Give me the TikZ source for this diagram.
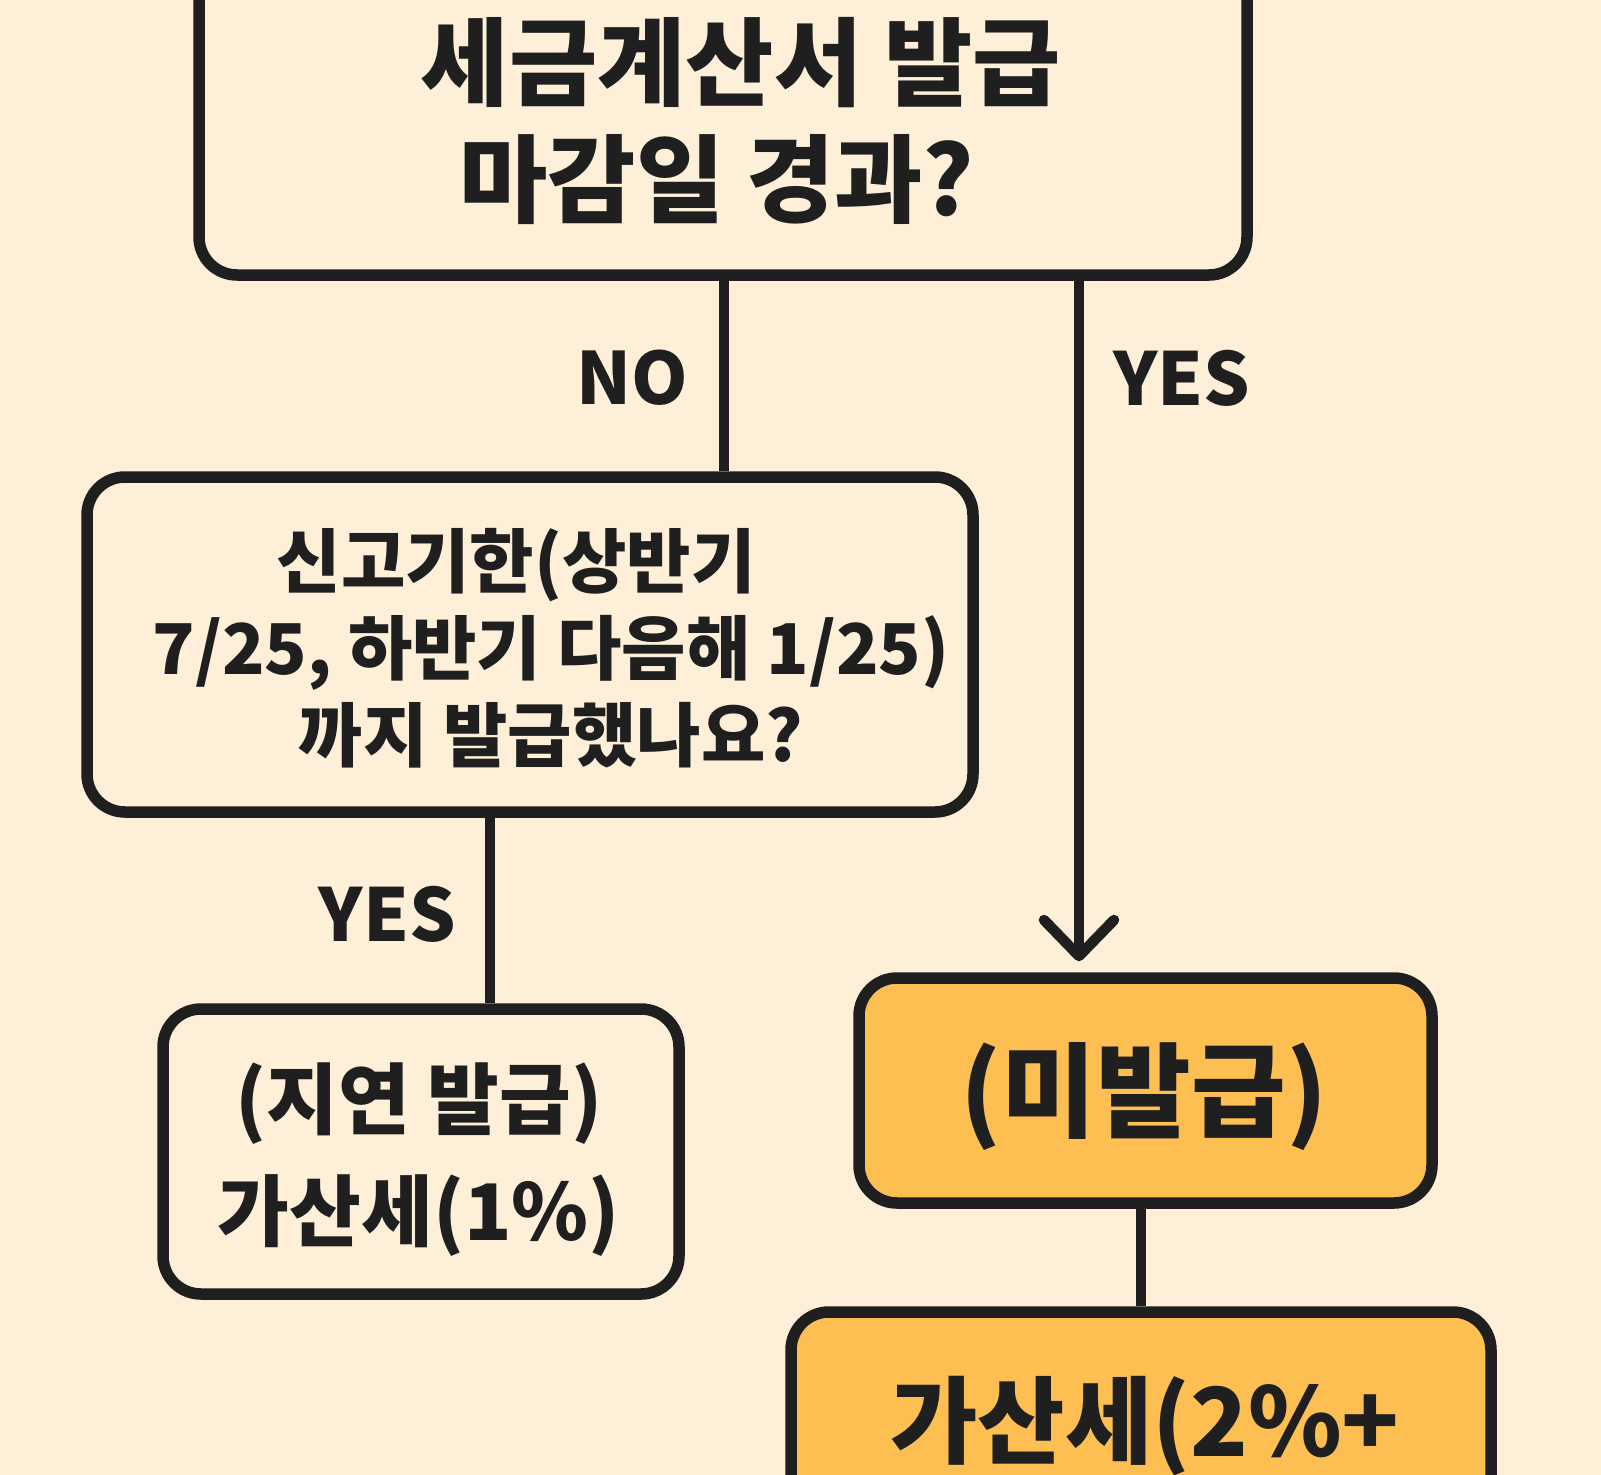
\documentclass[tikz,border=0pt]{standalone}
\usepackage{fontspec}
\setmainfont{Noto Sans CJK KR}
\usetikzlibrary{arrows.meta}
\definecolor{cream}{HTML}{FEF0D8}
\definecolor{amber}{HTML}{FDBE52}
\definecolor{ink}{HTML}{1F1F1F}
\begin{document}
\begin{tikzpicture}[x=1pt,y=-1pt,
  box/.style={draw=ink, line width=11.5pt, rounded corners=38pt, fill=cream, inner sep=0pt},
  hot/.style={box, fill=amber},
  txt/.style={text=ink, align=center, inner sep=0pt},
  wire/.style={draw=ink, line width=10.5pt}]
\useasboundingbox (0,0) rectangle (1601,1475);
\clip (0,0) rectangle (1601,1475);
\fill[cream] (0,0) rectangle (1601,1475);
% boxes
\node[box, minimum width=1048pt, minimum height=335pt] (q1) at (723,107.5) {};
\node[txt, font=\fontsize{96}{117}\selectfont\bfseries] (q1t) at (741,121) {세금계산서 발급\\마감일 경과?\hspace*{0.5em}};
\node[box, minimum width=886pt, minimum height=335pt] (q2) at (530,644.5) {};
\node[txt, font=\fontsize{70}{87}\selectfont\bfseries] (q2t) at (551,648) {신고기한(상반기\hspace*{1em}\\7/25, 하반기 다음해 1/25)\\까지 발급했나요?};
\node[box, minimum width=516pt, minimum height=285pt] (d1) at (421,1151.5) {};
\node[txt, font=\fontsize{78}{112}\selectfont\bfseries] (d1t) at (419,1160) {(지연 발급)\\가산세(1\%)};
\node[hot, minimum width=573pt, minimum height=225pt] (m1) at (1145.5,1090.5) {};
\node[txt, font=\fontsize{103}{120}\selectfont\bfseries] (m1t) at (1144,1097) {(미발급)};
\node[hot, minimum width=700pt, minimum height=400pt] (m2) at (1141,1512) {};
\node[txt, font=\fontsize{95}{120}\selectfont\bfseries] (m2t) at (1145,1426) {가산세(2\%+};
% connectors
\coordinate (xNo) at (724,0);
\coordinate (xYes) at (1079,0);
\coordinate (xD) at (490,0);
\coordinate (xM) at (1141,0);
\draw[wire] (q1.south -| xNo) -- (q2.north -| xNo);
\draw[wire, -{Straight Barb[length=36pt, width=70pt, round]}, shorten >=11pt] (q1.south -| xYes) -- (m1.north -| xYes);
\draw[wire] (q2.south -| xD) -- (d1.north -| xD);
\draw[wire] (m1.south -| xM) -- (m2.north -| xM);
% labels
\node[txt, font=\fontsize{72}{80}\selectfont\bfseries, anchor=east] (lNo) at (688,378) {NO};
\node[txt, font=\fontsize{73}{80}\selectfont\bfseries, anchor=west] (lYes) at (1113,378) {YES};
\node[txt, font=\fontsize{73}{80}\selectfont\bfseries, anchor=east] (lYes2) at (456,914) {YES};
\end{tikzpicture}
\end{document}
